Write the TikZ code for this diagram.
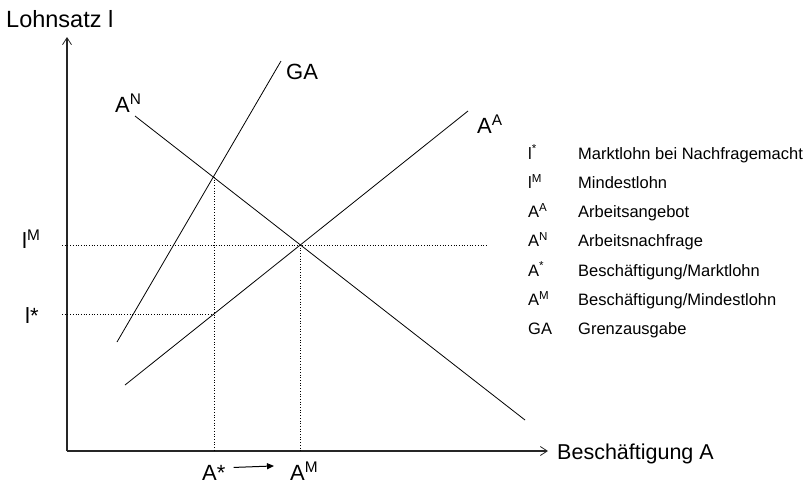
\documentclass[tikz,border=0pt]{standalone}
\usepackage{fontspec}
\setmainfont{Liberation Sans}
\usetikzlibrary{arrows.meta}

\begin{document}
\begin{tikzpicture}[x=1pt,y=-1pt,
  axis/.style={line width=1.3pt,black!85},
  curve/.style={line width=0.8pt},
  guide/.style={dotted,line width=0.7pt},
  lab/.style={font=\fontsize{22}{24}\selectfont,inner sep=0pt,anchor=base west},
  leg/.style={font=\fontsize{16.5}{18}\selectfont,inner sep=0pt,anchor=base west}]
\useasboundingbox (0,0) rectangle (806,483);
% axes
\coordinate (o) at (67,451);
\coordinate (ytop) at (67,37);
\coordinate (xend) at (548,451);
\draw[axis,-{Straight Barb[length=7pt,width=9pt,line width=0.8pt]}] (o)--(ytop);
\draw[axis,-{Straight Barb[length=7pt,width=9pt,line width=0.8pt]}] (o)--(xend);
\node[lab,font=\fontsize{23.5}{25}\selectfont] (ylab) at (6,27) {Lohnsatz l};
\node[lab,font=\fontsize{21.5}{24}\selectfont] (xlab) at (557,459) {Beschäftigung A};
% curves
\coordinate (ga1) at (117,342); \coordinate (ga2) at (281,61);
\coordinate (an1) at (135,116); \coordinate (an2) at (525,420);
\coordinate (aa1) at (125,385); \coordinate (aa2) at (468,111);
\draw[curve] (ga1)--(ga2);
\draw[curve] (an1)--(an2);
\draw[curve] (aa1)--(aa2);
\node[lab] (galab) at (286,79) {GA};
\node[lab] (anlab) at (115,112) {A\textsuperscript{N}};
\node[lab] (aalab) at (477,133) {A\textsuperscript{A}};
% guide lines
\coordinate (q) at (214,177);
\coordinate (r) at (214,314);
\coordinate (p) at (300,245);
\coordinate (lm0) at (62,245); \coordinate (lm1) at (488,245);
\coordinate (ls0) at (62,314);
\draw[guide] (lm0)--(lm1);
\draw[guide] (ls0)--(r);
\draw[guide] (q)--(q|-o);
\draw[guide] (p)--(p|-o);
\node[lab] (lmlab) at (22,248) {l\textsuperscript{M}};
\node[lab] (lslab) at (25,323) {l*};
\node[lab] (astar) at (202,480) {A*};
\node[lab] (am) at (290,480) {A\textsuperscript{M}};
\draw[line width=1pt,-{Triangle[length=7pt,width=6pt]}] ([shift={(8,-5)}]astar.east)--([shift={(-16,-5)}]am.west);
% legend
\foreach \sym/\txt [count=\i] in {l\textsuperscript{*}/Marktlohn bei Nachfragemacht,
  l\textsuperscript{M}/Mindestlohn,
  A\textsuperscript{A}/Arbeitsangebot,
  A\textsuperscript{N}/Arbeitsnachfrage,
  A\textsuperscript{*}/{Beschäftigung/Marktlohn},
  A\textsuperscript{M}/{Beschäftigung/Mindestlohn},
  GA/Grenzausgabe} {
  \node[leg] (sym\i) at (528,129.7+29.3*\i) {\sym};
  \node[leg] (txt\i) at (578,129.7+29.3*\i) {\txt};
}
\end{tikzpicture}
\end{document}
